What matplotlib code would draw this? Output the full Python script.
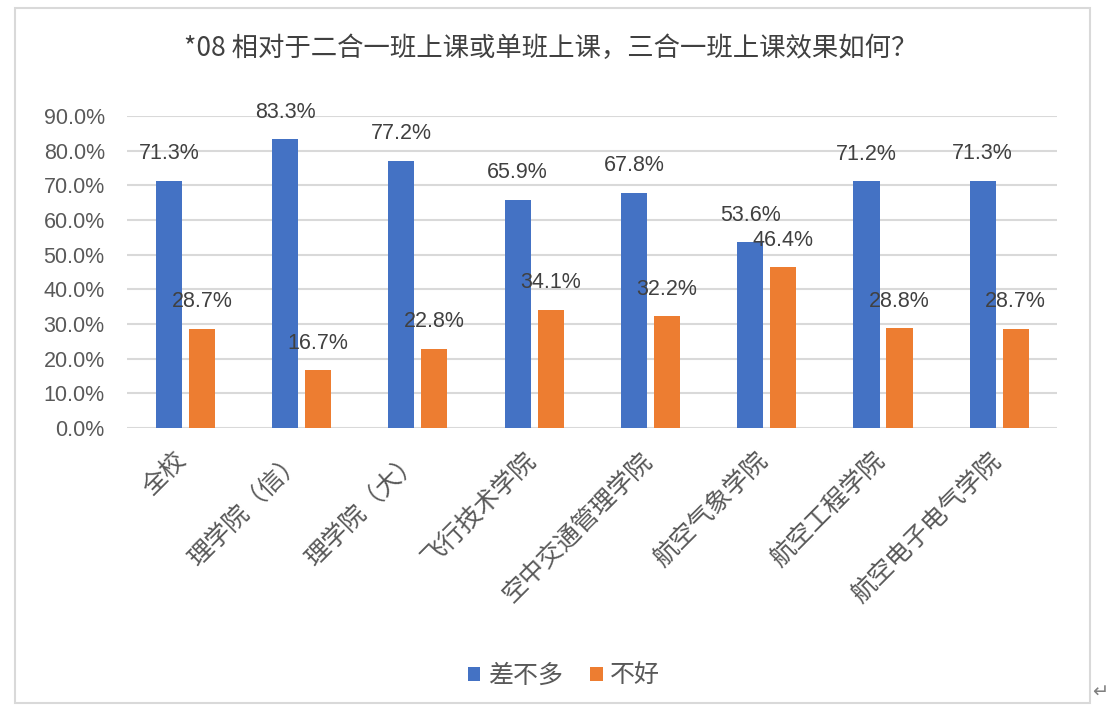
import matplotlib
matplotlib.use("Agg")
import matplotlib.pyplot as plt
import numpy as np
from matplotlib.patches import Rectangle

plt.rcParams['font.family'] = ['Noto Sans CJK SC', 'DejaVu Sans']

# data
categories = ["全校", "理学院（信）", "理学院（大）", "飞行技术学院",
              "空中交通管理学院", "航空气象学院", "航空工程学院", "航空电子电气学院"]
same = [71.3, 83.3, 77.2, 65.9, 67.8, 53.6, 71.2, 71.3]
bad = [28.7, 16.7, 22.8, 34.1, 32.2, 46.4, 28.8, 28.7]
series_names = ["差不多", "不好"]
title = "*08 相对于二合一班上课或单班上课，三合一班上课效果如何？"

blue = "#4472C4"
orange = "#ED7D31"
num_font = ["Liberation Sans", "DejaVu Sans"]

fig = plt.figure(figsize=(11.08, 7.17), dpi=100)
ax = fig.add_axes([0.1146, 0.403, 0.8394, 0.435])

x = np.arange(len(categories))
w = 0.224
b1 = ax.bar(x - 0.139, same, w, color=blue, label=series_names[0], zorder=3)
b2 = ax.bar(x + 0.145, bad, w, color=orange, label=series_names[1], zorder=3)

for bars, vals in ((b1, same), (b2, bad)):
    for r, v in zip(bars, vals):
        ax.annotate(f"{v:.1f}%", (r.get_x() + r.get_width() / 2, v),
                    xytext=(0, 12), textcoords="offset points",
                    ha="center", va="bottom", fontsize=15.5, color="#404040",
                    family=num_font)

ax.set_xlim(-0.5, len(categories) - 0.5)
ax.set_ylim(0, 90)
ax.set_yticks(np.arange(0, 91, 10))
ax.set_yticklabels([f"{t:.1f}%" for t in np.arange(0, 91, 10)],
                   family=num_font, fontsize=15.5, color="#595959")
ax.grid(axis="y", color="#d9d9d9", linewidth=1.5, zorder=0)
ax.tick_params(axis="both", length=0)
ax.tick_params(axis="y", pad=16)
for s in ax.spines.values():
    s.set_visible(False)

ax.set_xticks(x - 0.1)
ax.set_xticklabels(categories, rotation=45, ha="right", va="top",
                   rotation_mode="anchor", fontsize=18, color="#595959")
ax.tick_params(axis="x", pad=14)

fig.text(0.497, 0.932, title, ha="center", va="center", fontsize=19,
         color="#404040")

leg = fig.legend(loc="center", bbox_to_anchor=(0.509, 0.057), ncol=2, frameon=False,
                 fontsize=18, handlelength=0.5, handleheight=0.5,
                 handletextpad=0.3, columnspacing=1.1)
for t in leg.get_texts():
    t.set_color("#595959")

fig.patches.append(Rectangle((15 / 1108, 1 - 703 / 717), 1075 / 1108, 695 / 717,
                             transform=fig.transFigure, fill=False,
                             edgecolor="#d9d9d9", linewidth=1.5))
fig.text(1100 / 1108, 1 - 692 / 717, "↵", ha="center", va="center",
         fontsize=14, color="#808080", family=["DejaVu Sans"])

fig.savefig("out.png", dpi=100)
